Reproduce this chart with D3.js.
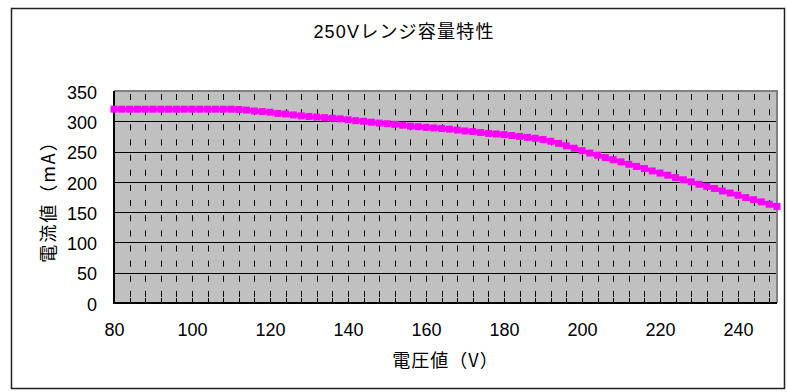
<!DOCTYPE html>
<html>
<head>
<meta charset="utf-8">
<script src="https://cdn.jsdelivr.net/npm/d3@7"></script>
<style>
  body { margin: 0; background: #fff; }
  text { font-family: "Liberation Sans", "Noto Sans CJK JP", sans-serif; fill: #000; }
</style>
</head>
<body>
<script>
// voltage (V), every 2 V from 80 to 250
const voltage = [80, 82, 84, 86, 88, 90, 92, 94, 96, 98, 100, 102, 104, 106, 108, 110,
  112, 114, 116, 118, 120, 122, 124, 126, 128, 130, 132, 134, 136, 138, 140,
  142, 144, 146, 148, 150, 152, 154, 156, 158, 160, 162, 164, 166, 168, 170,
  172, 174, 176, 178, 180, 182, 184, 186, 188, 190, 192, 194, 196, 198, 200,
  202, 204, 206, 208, 210, 212, 214, 216, 218, 220, 222, 224, 226, 228, 230,
  232, 234, 236, 238, 240, 242, 244, 246, 248, 250];
// current (mA)
const current = [320, 320, 320, 320, 320, 320, 320, 320, 320, 320, 320, 320, 320, 320, 320, 320,
  319.5, 318.5, 317, 316, 315, 313, 312, 310.5, 309, 308, 307, 306, 305, 304, 302.5,
  301, 300, 298.5, 297, 296, 295, 293.5, 292, 291, 290, 289, 288, 287, 285.5, 284,
  283, 281.5, 280, 279, 278, 276.5, 275, 273.5, 272, 270, 267, 263.5, 259.5, 255.5, 251.5,
  247.5, 244, 240, 236.5, 233, 229, 225.5, 222, 218, 214.5, 211, 207, 203.5, 200, 196,
  192.5, 189, 185, 181.5, 178, 174, 170.5, 167, 163, 159.5];
const xTicks = [80, 100, 120, 140, 160, 180, 200, 220, 240];
const xMinor = d3.range(84, 250, 4);
const yTicks = [0, 50, 100, 150, 200, 250, 300, 350];

const title = "250Vレンジ容量特性";
const xTitle = "電圧値（V）";
const yTitle = "電流値（mA）";

const W = 787, H = 392;
const svg = d3.select("body").append("svg")
  .attr("width", W)
  .attr("height", H);

// outer chart border
svg.append("rect")
  .attr("x", 11.5).attr("y", 8.5)
  .attr("width", 773).attr("height", 380)
  .attr("fill", "#fff")
  .attr("stroke", "#222")
  .attr("stroke-width", 1.5);

const pLeft = 114, pRight = 777, pTop = 91, pBottom = 303;
const x = d3.scaleLinear().domain([80, 250]).range([pLeft, pRight]);
const y = d3.scaleLinear().domain([0, 350]).range([pBottom, pTop]);

// plot area
svg.append("rect")
  .attr("x", pLeft).attr("y", pTop)
  .attr("width", pRight - pLeft).attr("height", pBottom - pTop)
  .attr("fill", "#c0c0c0");

// vertical dashed minor gridlines
svg.append("g").selectAll("line")
  .data(xMinor)
  .join("line")
  .attr("x1", d => Math.round(x(d)) + 0.5).attr("x2", d => Math.round(x(d)) + 0.5)
  .attr("y1", pTop).attr("y2", pBottom)
  .attr("stroke", "#000")
  .attr("stroke-width", 1)
  .attr("stroke-dasharray", "6,9.15")
  .attr("stroke-dashoffset", 12.15);

// small inner ticks on x axis
svg.append("g").selectAll("line")
  .data(xMinor)
  .join("line")
  .attr("x1", d => Math.round(x(d)) + 0.5).attr("x2", d => Math.round(x(d)) + 0.5)
  .attr("y1", pBottom - 5).attr("y2", pBottom)
  .attr("stroke", "#000");

// horizontal gridlines
svg.append("g").selectAll("line")
  .data(yTicks.filter(d => d > 0 && d < 350))
  .join("line")
  .attr("x1", pLeft).attr("x2", pRight)
  .attr("y1", d => Math.round(y(d)) + 0.5).attr("y2", d => Math.round(y(d)) + 0.5)
  .attr("stroke", "#000");

// plot frame: grey top/right, black axes
svg.append("path")
  .attr("d", `M${pLeft},${pTop}H${pRight}V${pBottom}`)
  .attr("fill", "none")
  .attr("stroke", "#808080")
  .attr("stroke-width", 2);
svg.append("path")
  .attr("d", `M${pLeft},${pTop}V${pBottom}H${pRight}`)
  .attr("fill", "none")
  .attr("stroke", "#000")
  .attr("stroke-width", 2);

// axes labels
const yAxis = d3.axisLeft(y).tickValues(yTicks).tickSize(0).tickPadding(17);
svg.append("g")
  .attr("transform", `translate(${pLeft},0)`)
  .call(yAxis)
  .call(g => g.select(".domain").remove())
  .selectAll("text")
  .style("font-size", "18px")
  .style("font-family", "'Liberation Sans', sans-serif")
  .attr("dy", "0.4em");

const xAxis = d3.axisBottom(x).tickValues(xTicks).tickSize(0).tickPadding(20);
svg.append("g")
  .attr("transform", `translate(0,${pBottom})`)
  .call(xAxis)
  .call(g => g.select(".domain").remove())
  .selectAll("text")
  .style("font-size", "18px")
  .style("font-family", "'Liberation Sans', sans-serif");

// series
const pts = voltage.map((v, i) => [v, current[i]]);
svg.append("path")
  .datum(pts)
  .attr("fill", "none")
  .attr("stroke", "#ff00ff")
  .attr("stroke-width", 4)
  .attr("d", d3.line().x(d => x(d[0])).y(d => y(d[1])));

svg.append("g").selectAll("rect")
  .data(pts)
  .join("rect")
  .attr("x", d => x(d[0]) - 3.5)
  .attr("y", d => y(d[1]) - 3.5)
  .attr("width", 7).attr("height", 7)
  .attr("fill", "#ff00ff");

// titles
svg.append("text")
  .attr("x", 404).attr("y", 38)
  .attr("text-anchor", "middle")
  .style("font-size", "18px")
  .style("letter-spacing", "1.2px")
  .text(title);

svg.append("text")
  .attr("x", (pLeft + pRight) / 2).attr("y", 367)
  .attr("text-anchor", "middle")
  .style("font-size", "18px")
  .style("letter-spacing", "1px")
  .style("font-family", "'Noto Sans CJK JP', sans-serif")
  .text(xTitle);

svg.append("text")
  .attr("transform", `translate(55, ${(pTop + pBottom) / 2}) rotate(-90)`)
  .attr("text-anchor", "middle")
  .style("font-size", "18px")
  .style("letter-spacing", "2px")
  .style("font-family", "'Noto Sans CJK JP', sans-serif")
  .text(yTitle);
</script>
</body>
</html>
